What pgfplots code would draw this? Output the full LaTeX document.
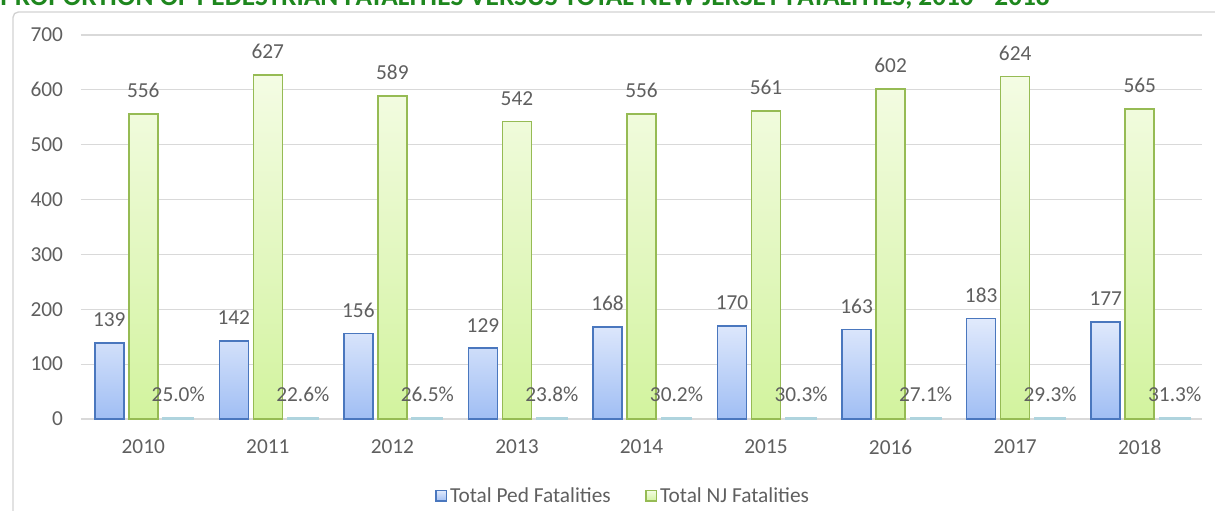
\documentclass[border=0pt]{standalone}
\usepackage{pgfplots}
\pgfplotsset{compat=1.18}
\usepackage{fontspec}
\setmainfont{Carlito}
\usepackage{graphicx}

\definecolor{txt}{RGB}{95,95,95}
\definecolor{titlegreen}{RGB}{30,135,30}
\definecolor{gridgray}{RGB}{217,217,217}
\definecolor{framegray}{RGB}{210,210,210}
\definecolor{blueTop}{RGB}{225,234,252}
\definecolor{blueBot}{RGB}{160,190,244}
\definecolor{blueEdge}{RGB}{74,119,190}
\definecolor{greenTop}{RGB}{244,252,228}
\definecolor{greenBot}{RGB}{210,243,158}
\definecolor{greenEdge}{RGB}{150,187,84}
\definecolor{pctFill}{RGB}{198,226,234}
\definecolor{pctEdge}{RGB}{175,212,222}

\pgfplotstableread{
x ped
0 139
1 142
2 156
3 129
4 168
5 170
6 163
7 183
8 177
}\pedtable
\pgfplotstableread{
x nj
0 556
1 627
2 589
3 542
4 556
5 561
6 602
7 624
8 565
}\njtable
\pgfplotstableread{
x pct lbl
0 0.250 25.0\%
1 0.226 22.6\%
2 0.265 26.5\%
3 0.238 23.8\%
4 0.302 30.2\%
5 0.303 30.3\%
6 0.271 27.1\%
7 0.293 29.3\%
8 0.313 31.3\%
}\pcttable

\begin{document}
\begin{tikzpicture}
\path[use as bounding box] (0,0) rectangle (911.25pt,383.25pt);
\draw[framegray, line width=1pt, rounded corners=4pt] (9.75pt,-20pt) rectangle (930pt,374.25pt);
\node[anchor=base west, inner sep=0, text=titlegreen, font=\bfseries] at (0pt,378.75pt)
  {\resizebox{787pt}{!}{PROPORTION OF PEDESTRIAN FATALITIES VERSUS TOTAL NEW JERSEY FATALITIES, 2010 - 2018}};

\begin{axis}[
  at={(60.75pt,69pt)}, anchor=south west,
  scale only axis, width=840.75pt, height=288pt,
  xmin=-0.5, xmax=8.5, ymin=0, ymax=700, enlargelimits=false,
  clip=false,
  ybar, bar width=21.75pt,
  xtick={0,1,2,3,4,5,6,7,8},
  xticklabels={2010,2011,2012,2013,2014,2015,2016,2017,2018},
  ytick={0,100,200,300,400,500,600,700},
  ymajorgrids, grid style={draw=gridgray, line width=0.8pt},
  axis x line*=bottom, axis y line*=left,
  y axis line style={draw=none},
  x axis line style={draw=gridgray, line width=0.9pt, -},
  tick style={draw=none},
  /pgf/number format/assume math mode=true,
  tick label style={font=\fontsize{16}{19}\selectfont, text=txt},
  xticklabel style={yshift=-8pt},
  yticklabel style={xshift=-10pt},
  nodes near coords style={font=\fontsize{16}{19}\selectfont, text=txt, anchor=south, inner sep=0pt},
  legend style={at={(0.484,-0.2)}, anchor=center, draw=none, fill=none,
    legend columns=2, font=\fontsize{16}{19}\selectfont, text=txt,
    /tikz/every even column/.append style={column sep=24pt},
    legend cell align=left},
  legend image code/.code={\draw[#1, line width=1pt] (0pt,-4pt) rectangle (8pt,4pt);},
]
\addplot[bar shift=-25.5pt, draw=blueEdge, line width=1.2pt, top color=blueTop, bottom color=blueBot,
  nodes near coords, nodes near coords style={yshift=11.5pt}]
  table[x=x, y=ped] {\pedtable};
\addlegendentry{Total Ped Fatalities}
\addplot[bar shift=0pt, draw=greenEdge, line width=1.2pt, top color=greenTop, bottom color=greenBot,
  nodes near coords, nodes near coords style={yshift=11.5pt}]
  table[x=x, y=pct, y=nj] {\njtable};
\addlegendentry{Total NJ Fatalities}
\addplot[forget plot, bar shift=26.25pt, draw=pctEdge, line width=2.2pt, fill=pctFill,
  point meta=explicit symbolic, nodes near coords, nodes near coords style={yshift=11.5pt}]
  table[x=x, y=pct, meta=lbl] {\pcttable};
\end{axis}
\end{tikzpicture}
\end{document}
